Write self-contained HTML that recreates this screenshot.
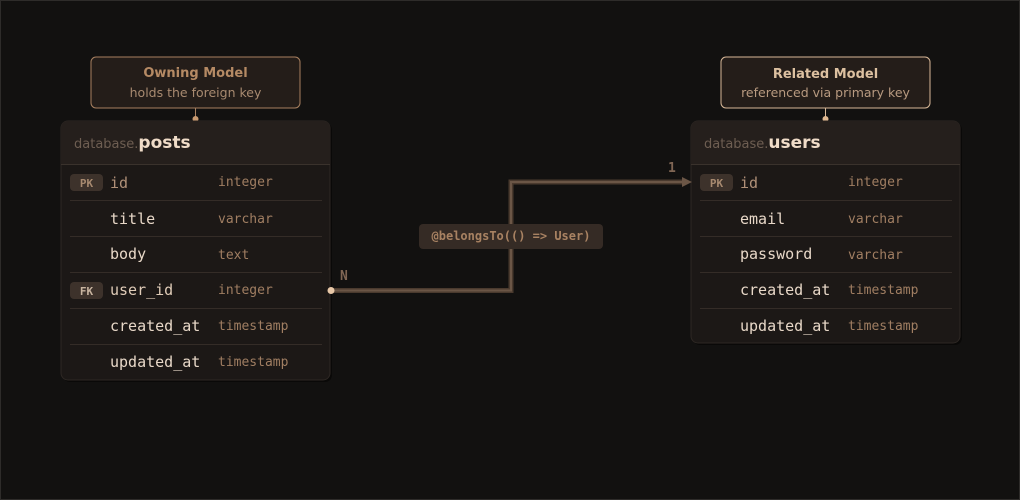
<!DOCTYPE html>
<html><head><meta charset="utf-8"><style>
html,body{margin:0;padding:0;background:#121110;}
svg{display:block}
.mono{font-family:"DejaVu Sans Mono","Liberation Mono",monospace}
.sans{font-family:"DejaVu Sans","Liberation Sans",sans-serif}
</style></head><body>
<svg width="1020" height="500" viewBox="0 0 1020 500" xmlns="http://www.w3.org/2000/svg">
<rect x="0.5" y="0.5" width="1019" height="499" fill="#121110" stroke="#2e2c2a"/>
<!-- notes -->
<rect x="91" y="57" width="209" height="51" rx="5" fill="#241d19" stroke="#a88060"/>
<text x="195.5" y="77" text-anchor="middle" class="sans" font-size="13" font-weight="bold" fill="#b58a64">Owning Model</text>
<text x="195.5" y="97" text-anchor="middle" class="sans" font-size="12.5" fill="#a88a70">holds the foreign key</text>
<line x1="195.5" y1="108" x2="195.5" y2="119" stroke="#a88060"/>
<circle cx="195.5" cy="119" r="3" fill="#c99a70"/>
<rect x="721" y="57" width="209" height="51" rx="5" fill="#241d19" stroke="#d8b898"/>
<text x="825.5" y="78" text-anchor="middle" class="sans" font-size="13" font-weight="bold" fill="#dcc0a0">Related Model</text>
<text x="825.5" y="97" text-anchor="middle" class="sans" font-size="12.5" fill="#b89a80">referenced via primary key</text>
<line x1="825.5" y1="108" x2="825.5" y2="119" stroke="#d8b898"/>
<circle cx="825.5" cy="119" r="3" fill="#e0b890"/>
<!-- posts table -->
<rect x="63" y="123" width="269" height="259" rx="7" fill="#0a0908"/>
<rect x="61" y="121" width="269" height="259" rx="7" fill="#1c1816" stroke="#2e2824"/>
<path d="M61 164 V128 a7 7 0 0 1 7 -7 H323 a7 7 0 0 1 7 7 V164 Z" fill="#251f1c"/>
<line x1="61" y1="164.5" x2="330" y2="164.5" stroke="#3a322c"/>
<text x="74" y="148" class="sans" font-size="13" fill="#6e5e52">database.<tspan font-size="17" font-weight="bold" fill="#f0dcc8">posts</tspan></text>
<g stroke="#342c27"><line x1="70" y1="200.5" x2="322" y2="200.5"/><line x1="70" y1="236.5" x2="322" y2="236.5"/><line x1="70" y1="272.5" x2="322" y2="272.5"/><line x1="70" y1="308.5" x2="322" y2="308.5"/><line x1="70" y1="344.5" x2="322" y2="344.5"/></g>
<rect x="70" y="174" width="33" height="17" rx="4" fill="#3d322b"/>
<text x="86.5" y="187" text-anchor="middle" class="mono" font-size="11" font-weight="bold" fill="#a88a70">PK</text>
<rect x="70" y="282" width="33" height="17" rx="4" fill="#3d322b"/>
<text x="86.5" y="295" text-anchor="middle" class="mono" font-size="11" font-weight="bold" fill="#c8b4a0">FK</text>
<g class="mono" font-size="15">
<text x="110" y="188" fill="#b09078">id</text>
<text x="110" y="224" fill="#e8d8c8">title</text>
<text x="110" y="259" fill="#e8d8c8">body</text>
<text x="110" y="295" fill="#e0ccb8">user_id</text>
<text x="110" y="331" fill="#e8d8c8">created_at</text>
<text x="110" y="367" fill="#e8d8c8">updated_at</text>
</g>
<g class="mono" font-size="13" fill="#a07e62">
<text x="218" y="186">integer</text><text x="218" y="223">varchar</text><text x="218" y="259">text</text>
<text x="218" y="294">integer</text><text x="218" y="330">timestamp</text><text x="218" y="366">timestamp</text>
</g>
<!-- users table -->
<rect x="693" y="123" width="269" height="222" rx="7" fill="#0a0908"/>
<rect x="691" y="121" width="269" height="222" rx="7" fill="#1c1816" stroke="#2e2824"/>
<path d="M691 164 V128 a7 7 0 0 1 7 -7 H953 a7 7 0 0 1 7 7 V164 Z" fill="#251f1c"/>
<line x1="691" y1="164.5" x2="960" y2="164.5" stroke="#3a322c"/>
<text x="704" y="148" class="sans" font-size="13" fill="#6e5e52">database.<tspan font-size="17" font-weight="bold" fill="#f0dcc8">users</tspan></text>
<g stroke="#342c27"><line x1="700" y1="200.5" x2="952" y2="200.5"/><line x1="700" y1="236.5" x2="952" y2="236.5"/><line x1="700" y1="272.5" x2="952" y2="272.5"/><line x1="700" y1="308.5" x2="952" y2="308.5"/></g>
<rect x="700" y="174" width="33" height="17" rx="4" fill="#3d322b"/>
<text x="716.5" y="187" text-anchor="middle" class="mono" font-size="11" font-weight="bold" fill="#a88a70">PK</text>
<g class="mono" font-size="15">
<text x="740" y="188" fill="#b09078">id</text>
<text x="740" y="224" fill="#e8d8c8">email</text>
<text x="740" y="259" fill="#e8d8c8">password</text>
<text x="740" y="295" fill="#e8d8c8">created_at</text>
<text x="740" y="331" fill="#e8d8c8">updated_at</text>
</g>
<g class="mono" font-size="13" fill="#a07e62">
<text x="848" y="186">integer</text><text x="848" y="223">varchar</text><text x="848" y="259">varchar</text>
<text x="848" y="294">timestamp</text><text x="848" y="330">timestamp</text>
</g>
<!-- connector -->
<path d="M331 290.5 H511 V182 H684" fill="none" stroke="#4a3a2e" stroke-width="5"/>
<path d="M331 290.5 H511 V182 H684" fill="none" stroke="#6b5646" stroke-width="2"/>
<polygon points="682,177 692,182 682,187" fill="#6b5646"/>
<circle cx="331" cy="290.5" r="3.5" fill="#e8c8a8"/>
<text x="340" y="280" class="mono" font-size="13" font-weight="bold" fill="#806654">N</text>
<text x="668" y="172" class="mono" font-size="13" font-weight="bold" fill="#806654">1</text>
<rect x="419" y="224" width="184" height="25" rx="4" fill="#352b25"/>
<text x="511" y="240" text-anchor="middle" class="mono" font-size="12" font-weight="bold" fill="#a88262">@belongsTo(() =&gt; User)</text>
</svg>
</body></html>
